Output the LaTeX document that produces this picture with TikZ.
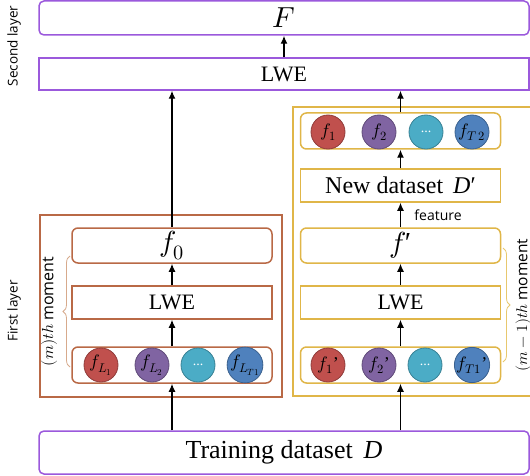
\documentclass[tikz,border=0pt]{standalone}
\usepackage{unicode-math}
\setmainfont{Liberation Serif}
\setsansfont{Open Sans}
\setmathfont{Latin Modern Math}
\usetikzlibrary{decorations.pathreplacing,arrows.meta}
\definecolor{purp}{RGB}{155,89,220}
\definecolor{brn}{RGB}{185,105,70}
\definecolor{yel}{RGB}{224,182,72}
\definecolor{brnlight}{RGB}{215,170,140}
\definecolor{yellight}{RGB}{232,200,110}
\definecolor{cred}{RGB}{192,80,77}
\definecolor{cpur}{RGB}{128,100,162}
\definecolor{ctea}{RGB}{75,172,198}
\definecolor{cblu}{RGB}{79,129,189}
\begin{document}
\begin{tikzpicture}[x=1pt,y=-1pt,
  boxbase/.style={inner sep=0pt, line width=1.5pt, fill=white},
  pbox/.style={boxbase, draw=purp, rounded corners=5pt},
  pboxsq/.style={boxbase, draw=purp},
  bbox/.style={boxbase, draw=brn},
  bboxr/.style={bbox, rounded corners=6pt},
  ybox/.style={boxbase, draw=yel},
  yboxr/.style={ybox, rounded corners=6pt},
  wide/.style={minimum width=490pt},
  col/.style={minimum width=200pt},
  arr/.style={-{Latex[length=8pt,width=7pt]}, line width=1.3pt},
  ball/.style={circle, minimum size=34pt, inner sep=0pt, line width=0.8pt, font=\fontsize{18}{20}\selectfont},
  bred/.style={ball, fill=cred, draw=cred!75!black},
  bpur/.style={ball, fill=cpur, draw=cpur!75!black},
  btea/.style={ball, fill=ctea, draw=ctea!75!black, text=white, font=\fontsize{14}{16}\selectfont},
  bblu/.style={ball, fill=cblu, draw=cblu!75!black},
  bigtxt/.style={font=\fontsize{22}{24}\selectfont},
  sidetxt/.style={font=\sffamily\fontsize{13.5}{15}\selectfont},
  brace/.style={decorate, decoration={brace, amplitude=7pt}, line width=0.8pt}
]
\useasboundingbox (0,0) rectangle (530,476);

% outer group boxes
\node[bbox, line width=1.2pt, minimum width=242pt, minimum height=182pt] (lout) at (161,306) {};
\node[ybox, line width=1.2pt, minimum width=244pt, minimum height=289pt] (rout) at (415,251.5) {};

% second layer
\node[pbox, wide, minimum height=34pt, font=\fontsize{29}{31}\selectfont] (F) at (284,18) {$F$};
\node[pboxsq, wide, minimum height=32pt, bigtxt] (lwe2) at (284,74) {LWE};

% training
\node[pbox, wide, minimum height=43pt, font=\fontsize{26}{28}\selectfont] (train) at (284,452.5) {Training dataset\, \textit{D}};

% left column
\node[bboxr, col, minimum height=35pt, font=\fontsize{29}{31}\selectfont] (f0) at (172,245.5) {$f_{0}$};
\node[bbox, col, minimum height=33pt, bigtxt] (lwel) at (172,302.5) {LWE};
\node[bboxr, col, minimum height=36pt] (lc) at (172,365) {};
\node[bred] (l1) at (101,365) {$f_{L_1}$};
\node[bpur] (l2) at (152,365) {$f_{L_2}$};
\node[btea] (l3) at (198,365) {...};
\node[bblu] (l4) at (245,365) {$f_{L_{T1}}$};

% right column
\node[yboxr, col, minimum height=36pt] (tc) at (400.5,131) {};
\node[bred] (t1) at (328,132) {$f_1$};
\node[bpur] (t2) at (379,132) {$f_2$};
\node[btea] (t3) at (426,132) {...};
\node[bblu] (t4) at (472,132) {$f_{T\,2}$};
\node[ybox, col, minimum height=33pt, font=\fontsize{24}{26}\selectfont] (nd) at (400.5,185.5) {New dataset\, \textit{D}′};
\node[yboxr, col, minimum height=35pt, font=\fontsize{29}{31}\selectfont] (fp) at (400.5,245.5) {$f$\kern-1.5pt′};
\node[ybox, col, minimum height=33pt, bigtxt] (lwer) at (400.5,302.5) {LWE};
\node[yboxr, col, minimum height=36pt] (rc) at (400.5,365) {};
\node[bred] (r1) at (328,365) {$f_1$'};
\node[bpur] (r2) at (379,365) {$f_2$'};
\node[btea] (r3) at (425,365) {...};
\node[bblu] (r4) at (472,365) {$f_{T1}$'};

% arrows
\draw[arr] (lwe2.north) -- (F.south);
\draw[arr] (f0.north) -- (f0.north |- lwe2.south);
\draw[arr] (tc.north) -- (tc.north |- lwe2.south);
\draw[arr] (lwel.north) -- (f0.south);
\draw[arr] (lc.north) -- (lwel.south);
\draw[arr] (lc.south |- train.north) -- (lc.south);
\draw[arr] (nd.north) -- (tc.south);
\draw[arr] (fp.north) -- (nd.south) node[midway, right=10pt, font=\sffamily\fontsize{14}{16}\selectfont] {feature};
\draw[arr] (lwer.north) -- (fp.south);
\draw[arr] (rc.north) -- (lwer.south);
\draw[arr] (rc.south |- train.north) -- (rc.south);

% braces
\coordinate (lb1) at (70,367);
\coordinate (lb2) at (70,256);
\draw[brace, draw=brnlight] (lb1) -- (lb2) node[midway, left=9pt, rotate=90, anchor=south, font=\fontsize{16}{18}\selectfont] {$(m)th$ \sffamily moment};
\coordinate (rb1) at (503,248);
\coordinate (rb2) at (503,362);
\draw[brace, draw=yellight] (rb1) -- (rb2) node[midway, rotate=90, anchor=north, yshift=-9pt, font=\fontsize{15.5}{17}\selectfont] {$(m-1)th$ \sffamily moment};

% layer labels
\node[sidetxt, rotate=90] (sl) at (14,46) {Second layer};
\node[sidetxt, rotate=90] (fl) at (14,311) {First layer};
\end{tikzpicture}
\end{document}
